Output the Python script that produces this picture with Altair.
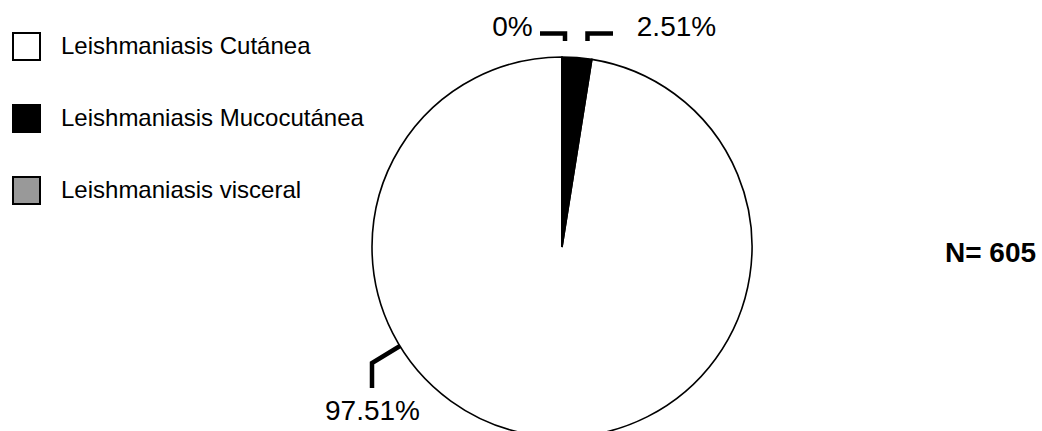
import altair as alt
import pandas as pd

# Slice data
categories = ["Leishmaniasis Cutánea", "Leishmaniasis Mucocutánea", "Leishmaniasis visceral"]
percentages = [97.51, 2.51, 0.0]
labels = ["97.51%", "2.51%", "0%"]
fills = ["#ffffff", "#000000", "#999999"]
# clockwise drawing order starting at 12 o'clock
draw_order = [3, 2, 1]
total_n = 605

# Canvas and pie layout (pixels)
W, H = 1042, 431
CX, CY, R = 562, 247, 190
FONT = "Liberation Sans, Arial, sans-serif"


def ux(px):
    return (px - CX) / R


def uy(py):
    return (CY - py) / R


x_scale = alt.Scale(domain=[ux(0), ux(W)], nice=False, zero=False)
y_scale = alt.Scale(domain=[uy(H), uy(0)], nice=False, zero=False)

slices = pd.DataFrame({
    "name": categories,
    "pct": percentages,
    "slot": draw_order,
})

pie = alt.Chart(slices).mark_arc(
    outerRadius=R, stroke="black", strokeWidth=1.6
).encode(
    x=alt.datum(0, type="quantitative", scale=x_scale, axis=None),
    y=alt.datum(0, type="quantitative", scale=y_scale, axis=None),
    theta=alt.Theta("pct:Q", stack=True),
    order=alt.Order("slot:Q"),
    color=alt.Color(
        "name:N",
        scale=alt.Scale(domain=categories, range=fills),
        legend=alt.Legend(
            title=None,
            orient="none",
            legendX=12,
            legendY=32,
            padding=0,
            symbolType="square",
            symbolSize=729,
            symbolStrokeColor="black",
            symbolStrokeWidth=2,
            symbolOpacity=1,
            labelFont=FONT,
            labelFontSize=24,
            labelColor="black",
            labelOffset=20,
            labelLimit=400,
            rowPadding=37,
        ),
    ),
)

# Leader lines (elbow connectors from labels to slices), pixel layout
leader_pts = [
    ("0%", 0, 540, 33.5), ("0%", 1, 565, 33.5), ("0%", 2, 565, 41),
    ("2.51%", 0, 587.5, 41), ("2.51%", 1, 587.5, 33.5), ("2.51%", 2, 613, 33.5),
    ("97.51%", 0, 400, 346), ("97.51%", 1, 372, 363), ("97.51%", 2, 372, 388),
]
leaders = pd.DataFrame(
    [{"lab": l, "seq": s, "ux": ux(px), "uy": uy(py)} for l, s, px, py in leader_pts]
)

leader_lines = alt.Chart(leaders).mark_line(
    color="black", strokeWidth=4.5, strokeCap="butt", strokeJoin="miter"
).encode(
    x=alt.X("ux:Q", scale=x_scale, axis=None),
    y=alt.Y("uy:Q", scale=y_scale, axis=None),
    detail="lab:N",
    order="seq:Q",
)

# Percentage labels
label_pos = {"0%": (512.5, 36), "2.51%": (676.5, 36), "97.51%": (372.5, 420)}
label_df = pd.DataFrame({
    "text": labels,
    "ux": [ux(label_pos[t][0]) for t in labels],
    "uy": [uy(label_pos[t][1]) for t in labels],
})

pct_text = alt.Chart(label_df).mark_text(
    font=FONT, fontSize=28, color="black", align="center", baseline="alphabetic"
).encode(
    x=alt.X("ux:Q", scale=x_scale, axis=None),
    y=alt.Y("uy:Q", scale=y_scale, axis=None),
    text="text:N",
)

n_df = pd.DataFrame({"text": [f"N= {total_n}"], "ux": [ux(990.5)], "uy": [uy(262)]})
n_text = alt.Chart(n_df).mark_text(
    font=FONT, fontSize=28, fontWeight="bold", color="black",
    align="center", baseline="alphabetic"
).encode(
    x=alt.X("ux:Q", scale=x_scale, axis=None),
    y=alt.Y("uy:Q", scale=y_scale, axis=None),
    text="text:N",
)

chart = alt.layer(pie, leader_lines, pct_text, n_text).properties(
    width=W, height=H,
    autosize=alt.AutoSizeParams(type="none"),
    padding=0,
    background="white",
).configure_view(stroke=None)

chart.save("out.html", embed_options={"renderer": "svg", "actions": False})
